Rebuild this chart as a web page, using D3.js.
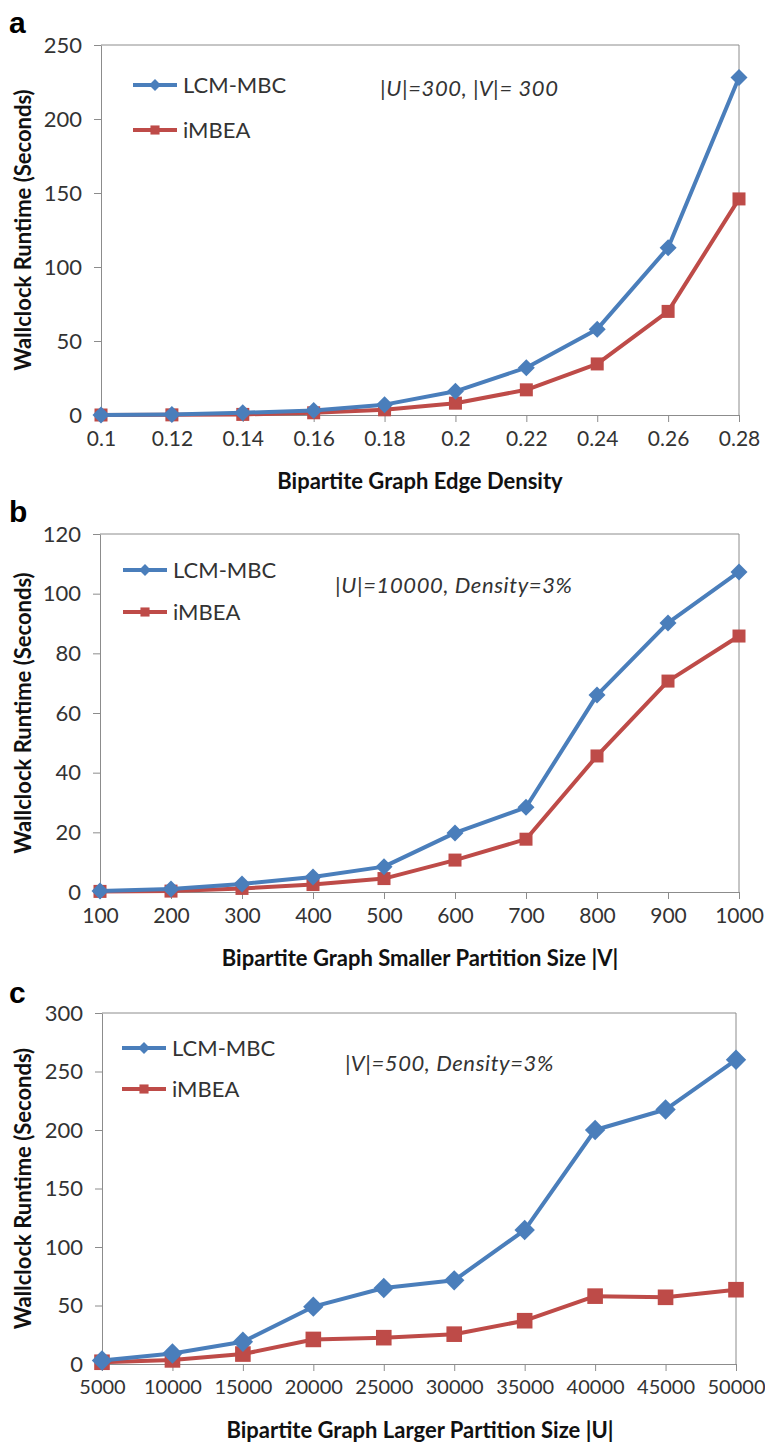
<!DOCTYPE html>
<html>
<head>
<meta charset="utf-8">
<script src="https://cdn.jsdelivr.net/npm/d3@7"></script>
<style>
  body { margin: 0; background: #fff; }
  text { font-family: Lato, "Open Sans", sans-serif; }
</style>
</head>
<body>
<div id="chart"></div>
<script>
// series names
const seriesNames = ['LCM-MBC', 'iMBEA'];

// panel a: edge density
const densityLabels = ['0.1', '0.12', '0.14', '0.16', '0.18', '0.2', '0.22', '0.24', '0.26', '0.28'];
const densityLcm = [0, 0.4, 1.5, 3, 7, 16, 32, 58, 113, 228];
const densityImbea = [0, 0.1, 0.4, 1.5, 3.5, 8, 17, 34.5, 70, 146];

// panel b: smaller partition |V|
const sizeVLabels = ['100', '200', '300', '400', '500', '600', '700', '800', '900', '1000'];
const sizeVLcm = [0.3, 1, 2.7, 5, 8.5, 19.8, 28.4, 66, 90.2, 107.3];
const sizeVImbea = [0.2, 0.3, 1.2, 2.5, 4.5, 10.7, 17.7, 45.6, 70.7, 85.8];

// panel c: larger partition |U|
const sizeULabels = ['5000', '10000', '15000', '20000', '25000', '30000', '35000', '40000', '45000', '50000'];
const sizeULcm = [3, 9, 19, 49, 65, 71.5, 114.5, 200, 217.5, 260];
const sizeUImbea = [1.5, 3.5, 8.5, 21, 22.5, 25.5, 37, 58, 57, 63.5];

const colors = {lcm: '#4a7ebb', imbea: '#be4b48', axis: '#8c8c8c', text: '#333333'};

const W = 765, H = 1443;
const svg = d3.select('#chart').append('svg').attr('width', W).attr('height', H);

const panels = [
  {letter: 'a', letterY: 33, top: 45, bottom: 415, left: 101, right: 739,
   yMax: 250, yStep: 50, labels: densityLabels, lcm: densityLcm, imbea: densityImbea,
   xTitle: 'Bipartite Graph Edge Density', note: '|U|=300, |V|= 300', noteX: 380, noteY: 96,
   legX: 133, legY: [85, 130], mark: 1, tickFont: 21},
  {letter: 'b', letterY: 522, top: 534, bottom: 892, left: 100, right: 739,
   yMax: 120, yStep: 20, labels: sizeVLabels, lcm: sizeVLcm, imbea: sizeVImbea,
   xTitle: 'Bipartite  Graph Smaller Partition Size  |V|', note: '|U|=10000, Density=3%', noteX: 335, noteY: 593,
   legX: 123, legY: [570, 612], mark: 1, tickFont: 21},
  {letter: 'c', letterY: 1003, top: 1013, bottom: 1364, left: 102, right: 736,
   yMax: 300, yStep: 50, labels: sizeULabels, lcm: sizeULcm, imbea: sizeUImbea,
   xTitle: 'Bipartite Graph Larger Partition Size |U|', note: '|V|=500, Density=3%', noteX: 345, noteY: 1071,
   legX: 122, legY: [1048, 1089], mark: 1.2, tickFont: 20}
];

function drawMarker(g, kind, x, y, s) {
  if (kind === 'diamond') {
    const r = 8.5 * s;
    g.append('path')
      .attr('d', `M${x},${y - r}L${x + r},${y}L${x},${y + r}L${x - r},${y}Z`)
      .attr('fill', colors.lcm);
  } else {
    const r = 6.5 * s;
    g.append('rect')
      .attr('x', x - r).attr('y', y - r).attr('width', 2 * r).attr('height', 2 * r)
      .attr('fill', colors.imbea);
  }
}

panels.forEach(p => {
  const g = svg.append('g');

  const x = d3.scalePoint().domain(p.labels).range([p.left, p.right]).padding(0);
  const y = d3.scaleLinear().domain([0, p.yMax]).range([p.bottom, p.top]);

  // panel letter
  svg.append('text').attr('x', 9).attr('y', p.letterY)
    .attr('font-weight', 'bold').attr('font-size', 30).attr('fill', '#000')
    .style('font-family', 'Arial, "Liberation Sans", sans-serif')
    .text(p.letter);

  // plot frame (top/right)
  g.append('path')
    .attr('d', `M${p.left},${p.top}H${p.right}V${p.bottom}`)
    .attr('fill', 'none').attr('stroke', colors.axis).attr('stroke-width', 1);

  // y axis
  const yAxis = d3.axisLeft(y)
    .tickValues(d3.range(0, p.yMax + 0.001, p.yStep))
    .tickSize(7).tickPadding(12).tickSizeOuter(0);
  const ya = g.append('g').attr('transform', `translate(${p.left},0)`).call(yAxis);
  ya.select('.domain').attr('stroke', colors.axis);
  ya.selectAll('.tick line').attr('stroke', colors.axis);
  ya.selectAll('.tick text').attr('font-size', 22).attr('fill', colors.text)
    .attr('font-family', 'Lato, sans-serif');

  // x axis
  const xAxis = d3.axisBottom(x).tickSize(7).tickPadding(9).tickSizeOuter(0);
  const xa = g.append('g').attr('transform', `translate(0,${p.bottom})`).call(xAxis);
  xa.select('.domain').attr('stroke', colors.axis);
  xa.selectAll('.tick line').attr('stroke', colors.axis);
  xa.selectAll('.tick text').attr('font-size', p.tickFont).attr('fill', colors.text)
    .attr('font-family', 'Lato, sans-serif');

  // axis titles
  g.append('text')
    .attr('x', 420).attr('y', p.bottom + 74)
    .attr('text-anchor', 'middle').attr('font-size', 22).attr('font-weight', 'bold')
    .attr('fill', '#111').text(p.xTitle);
  g.append('text')
    .attr('transform', `translate(31,${(p.top + p.bottom) / 2}) rotate(-90)`)
    .attr('text-anchor', 'middle').attr('font-size', 22).attr('font-weight', 'bold')
    .attr('fill', '#111').text('Wallclock Runtime (Seconds)');

  // lines
  const line = d3.line().x((d, i) => x(p.labels[i])).y(d => y(d));
  const series = [
    {vals: p.imbea, color: colors.imbea, kind: 'square'},
    {vals: p.lcm, color: colors.lcm, kind: 'diamond'}
  ];
  series.forEach(s => {
    g.append('path').datum(s.vals)
      .attr('d', line).attr('fill', 'none')
      .attr('stroke', s.color).attr('stroke-width', 4).attr('stroke-linejoin', 'round');
  });
  series.forEach(s => {
    s.vals.forEach((v, i) => drawMarker(g, s.kind, x(p.labels[i]), y(v), p.mark));
  });

  // legend
  [{name: seriesNames[0], color: colors.lcm, kind: 'diamond'},
   {name: seriesNames[1], color: colors.imbea, kind: 'square'}].forEach((l, i) => {
    const ly = p.legY[i];
    g.append('line').attr('x1', p.legX).attr('x2', p.legX + 44).attr('y1', ly).attr('y2', ly)
      .attr('stroke', l.color).attr('stroke-width', 4);
    drawMarker(g, l.kind, p.legX + 22, ly, 0.7);
    g.append('text').attr('x', p.legX + 50).attr('y', ly + 8)
      .attr('font-size', 22).attr('fill', colors.text).text(l.name);
  });

  // annotation
  g.append('text').attr('x', p.noteX).attr('y', p.noteY)
    .attr('font-size', 22).attr('font-style', 'italic').attr('fill', colors.text)
    .attr('letter-spacing', 0.6)
    .text(p.note);
});
</script>
</body>
</html>
